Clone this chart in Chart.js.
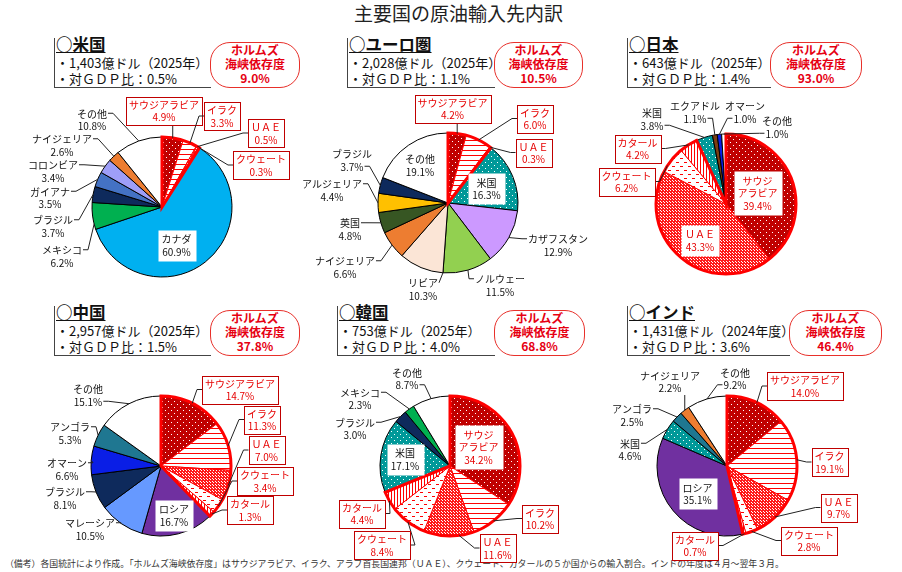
<!DOCTYPE html>
<html lang="ja"><head><meta charset="utf-8">
<script src="https://cdn.jsdelivr.net/npm/chart.js@4.4.1/dist/chart.umd.min.js"></script>
<style>
html,body{margin:0;padding:0;width:902px;height:572px;overflow:hidden;background:#fff;font-family:"Noto Sans CJK JP","Noto Sans",sans-serif;color:#111;}
#title{position:absolute;left:354px;top:0px;font-size:19px;line-height:26px;color:#222;white-space:nowrap;}
.hdr{position:absolute;border-left:1px solid #444;border-bottom:1px solid #444;height:49px;box-sizing:content-box;}
.hdr .t{position:absolute;left:1px;top:-2px;font-size:16.5px;line-height:17px;font-weight:bold;text-decoration:underline;white-space:nowrap;}
.hdr .l{position:absolute;left:1px;font-size:13px;line-height:14px;white-space:nowrap;}
.hz{position:absolute;border:1.5px solid #E8302A;border-radius:20px;color:#E60012;font-weight:bold;font-size:12px;line-height:14px;text-align:center;box-sizing:border-box;height:46px;padding-top:0;}
canvas{position:absolute;}
#note{position:absolute;left:5px;top:557px;font-size:8.9px;line-height:14px;color:#333;white-space:nowrap;}
</style></head>
<body>
<div id="title">主要国の原油輸入先内訳</div>
<div id="note">（備考）各国統計により作成。「ホルムズ海峡依存度」はサウジアラビア、イラク、アラブ首長国連邦（ＵＡＥ）、クウェート、カタールの５か国からの輸入割合。インドの年度は４月～翌年３月。</div>
<script>
// ===== DATA =====
const regionNames   = ['米国','ユーロ圏','日本','中国','韓国','インド'];
const importAmounts = [1403, 2028, 643, 2957, 753, 1431]; // 億ドル
const importPeriods = ['2025年','2025年','2025年','2025年','2025年','2024年度'];
const gdpRatios     = [0.5, 1.1, 1.4, 1.5, 4.0, 3.6];
const hormuzShares  = [9.0, 10.5, 93.0, 37.8, 68.8, 46.4];

const usCategories = ['サウジアラビア','イラク','ＵＡＥ','クウェート','カナダ','メキシコ','ブラジル','ガイアナ','コロンビア','ナイジェリア','その他'];
const usValues     = [4.9, 3.3, 0.5, 0.3, 60.9, 6.2, 3.7, 3.5, 3.4, 2.6, 10.8];

const euCategories = ['サウジアラビア','イラク','ＵＡＥ','米国','カザフスタン','ノルウェー','リビア','ナイジェリア','英国','アルジェリア','ブラジル','その他'];
const euValues     = [4.2, 6.0, 0.3, 16.3, 12.9, 11.5, 10.3, 6.6, 4.8, 4.4, 3.7, 19.1];

const jpCategories = ['サウジアラビア','ＵＡＥ','クウェート','カタール','米国','エクアドル','オマーン','その他'];
const jpValues     = [39.4, 43.3, 6.2, 4.2, 3.8, 1.1, 1.0, 1.0];

const cnCategories = ['サウジアラビア','イラク','ＵＡＥ','クウェート','カタール','ロシア','マレーシア','ブラジル','オマーン','アンゴラ','その他'];
const cnValues     = [14.7, 11.3, 7.0, 3.4, 1.3, 16.7, 10.5, 8.1, 6.6, 5.3, 15.1];

const krCategories = ['サウジアラビア','イラク','ＵＡＥ','クウェート','カタール','米国','ブラジル','メキシコ','その他'];
const krValues     = [34.2, 10.2, 11.6, 8.4, 4.4, 17.1, 3.0, 2.3, 8.7];

const inCategories = ['サウジアラビア','イラク','ＵＡＥ','クウェート','カタール','ロシア','米国','アンゴラ','ナイジェリア','その他'];
const inValues     = [14.0, 19.1, 9.7, 2.8, 0.7, 35.1, 4.6, 2.5, 2.2, 9.2];

const HORMUZ = ['サウジアラビア','イラク','ＵＡＥ','クウェート','カタール'];

// ===== LAYOUT (positions, not data) =====
const panelLayout = [
  {hx:54,  hy:38,  bx:210, bw:90, cx:162, cy:207},
  {hx:347, hy:38,  bx:494, bw:89, cx:448, cy:203},
  {hx:627, hy:38,  bx:770, bw:92, cx:726, cy:204},
  {hx:54,  hy:306, bx:210, bw:90, cx:161, cy:466},
  {hx:337, hy:306, bx:494, bw:91, cx:450, cy:466},
  {hx:627, hy:306, bx:789, bw:93, cx:727, cy:466}
];
// label offsets from pie centre; a: attach side of leader (l/r/b), in = inside box, txt = inside plain
const usLabelPos = {
  'サウジアラビア':{x:2,y:-96.5,a:'b'}, 'イラク':{x:60,y:-91,a:'l'}, 'ＵＡＥ':{x:104,y:-74,a:'l'},
  'クウェート':{x:99,y:-42,a:'l'}, 'カナダ':{x:14.5,y:38,a:'in'}, 'メキシコ':{x:-100,y:49,a:'r',f:0.2},
  'ブラジル':{x:-109,y:19,a:'r'}, 'ガイアナ':{x:-112,y:-9.5,a:'r'}, 'コロンビア':{x:-109,y:-36,a:'r'},
  'ナイジェリア':{x:-100,y:-62,a:'r'}, 'その他':{x:-70,y:-87.5,a:'r'}
};
const euLabelPos = {
  'サウジアラビア':{x:4.5,y:-94.5,a:'b'}, 'イラク':{x:87,y:-84.5,a:'l'}, 'ＵＡＥ':{x:85.5,y:-50.5,a:'l'},
  '米国':{x:38.5,y:-14.5,a:'in'}, 'カザフスタン':{x:110,y:42,a:'l'}, 'ノルウェー':{x:52,y:82,a:'l'},
  'リビア':{x:-25,y:86,a:'r',f:0,e:0}, 'ナイジェリア':{x:-103,y:64,a:'r'}, '英国':{x:-98,y:26,a:'r'},
  'アルジェリア':{x:-116,y:-13,a:'r'}, 'ブラジル':{x:-96,y:-43,a:'r',al:1}, 'その他':{x:-28,y:-38,a:'txt'}
};
const jpLabelPos = {
  'サウジアラビア':{x:31.5,y:-11,a:'in',br:1}, 'ＵＡＥ':{x:-26,y:36,a:'in'},
  'クウェート':{x:-99.5,y:-22.5,a:'r',f:0.25}, 'カタール':{x:-88.5,y:-55.5,a:'r'},
  '米国':{x:-74,y:-85,a:'r',al:1}, 'エクアドル':{x:-31,y:-92,a:'r',al:1},
  'オマーン':{x:19,y:-92,a:'l',al:1}, 'その他':{x:51,y:-77,a:'l',al:1}
};
const cnLabelPos = {
  'サウジアラビア':{x:79,y:-76.5,a:'l'}, 'イラク':{x:101,y:-46.5,a:'l'}, 'ＵＡＥ':{x:105.5,y:-16,a:'l'},
  'クウェート':{x:104,y:15,a:'l'}, 'カタール':{x:89,y:44,a:'l'}, 'ロシア':{x:13,y:49,a:'in'},
  'マレーシア':{x:-71,y:63,a:'r'}, 'ブラジル':{x:-96,y:32,a:'r'}, 'オマーン':{x:-94,y:3,a:'r'},
  'アンゴラ':{x:-91,y:-33,a:'r'}, 'その他':{x:-73,y:-71,a:'r',al:1}
};
const krLabelPos = {
  'サウジアラビア':{x:28.5,y:-19,a:'in',br:1}, 'イラク':{x:90,y:52.5,a:'l'}, 'ＵＡＥ':{x:47.5,y:82,a:'l',f:0.3},
  'クウェート':{x:-68,y:79,a:'r'}, 'カタール':{x:-88,y:47.5,a:'r'}, '米国':{x:-45,y:-7,a:'in'},
  'ブラジル':{x:-95,y:-37.5,a:'r'}, 'メキシコ':{x:-90,y:-67.5,a:'r'}, 'その他':{x:-43,y:-87.5,a:'r',al:1}
};
const inLabelPos = {
  'サウジアラビア':{x:78,y:-80,a:'l'}, 'イラク':{x:102.5,y:-4,a:'l'}, 'ＵＡＥ':{x:111.5,y:41.5,a:'l'},
  'クウェート':{x:82,y:74.5,a:'l'}, 'カタール':{x:-32,y:79.5,a:'r'}, 'ロシア':{x:-29.5,y:27.5,a:'in'},
  '米国':{x:-97,y:-16.5,a:'r'}, 'アンゴラ':{x:-95,y:-51,a:'r'}, 'ナイジェリア':{x:-57,y:-84.5,a:'b'},
  'その他':{x:8,y:-87.5,a:'l',al:1}
};

// ===== STYLES =====
function pat(w,h,bg,draw){const c=document.createElement('canvas');c.width=w;c.height=h;const g=c.getContext('2d');g.fillStyle=bg;g.fillRect(0,0,w,h);draw(g);return g.createPattern(c,'repeat');}
const P = {
  saudi: pat(6,6,'#C00000',g=>{g.fillStyle='#fff';g.fillRect(1,1,1,1);g.fillRect(4,4,1,1);}),
  iraq:  pat(5,5,'#fff',g=>{g.fillStyle='#FF0000';g.fillRect(0,2,5,1);}),
  uae:   pat(3,3,'#FF1A1A',g=>{g.fillStyle='#fff';g.fillRect(1,1,1,1);g.fillRect(0,0,1,1);}),
  kuwait:pat(8,8,'#fff',g=>{g.fillStyle='#FF0000';g.fillRect(0,2,3,1);g.fillRect(4,6,3,1);}),
  qatar: pat(3,3,'#fff',g=>{g.fillStyle='#FF0000';g.fillRect(1,0,1,3);}),
  teal:  pat(6,6,'#009999',g=>{g.fillStyle='#fff';g.fillRect(1,1,1,1);g.fillRect(4,4,1,1);})
};
const SLICE_FILL = {
  'サウジアラビア':P.saudi,'イラク':P.iraq,'ＵＡＥ':P.uae,'クウェート':P.kuwait,'カタール':P.qatar,'米国':P.teal,
  'カナダ':'#00B0F0','メキシコ':'#00B050','ブラジル':'#0E2A5C','ガイアナ':'#4472C4','コロンビア':'#9E9EF8',
  'ナイジェリア':'#ED7D31','その他':'#FFFFFF','カザフスタン':'#CC99FF','ノルウェー':'#92D050','リビア':'#FBE5D6',
  '英国':'#375623','アルジェリア':'#FFC000','エクアドル':'#7B3F12','オマーン':'#0A1EE6','ロシア':'#7030A0',
  'マレーシア':'#6699FF','アンゴラ':'#1F7791'
};
const fmtPct = v => v.toFixed(1) + '%';

// ===== HEADERS =====
panelLayout.forEach((p,i)=>{
  const h=document.createElement('div');h.className='hdr';
  h.style.left=p.hx+'px';h.style.top=p.hy+'px';h.style.width=(p.bx-p.hx)+'px';
  h.innerHTML='<div class="t">○'+regionNames[i]+'</div>'+
    '<div class="l" style="top:18px">・'+importAmounts[i].toLocaleString('en-US')+'億ドル（'+importPeriods[i]+'）</div>'+
    '<div class="l" style="top:34px">・対ＧＤＰ比：'+gdpRatios[i].toFixed(1)+'%</div>';
  document.body.appendChild(h);
  const z=document.createElement('div');z.className='hz';
  z.style.left=p.bx+'px';z.style.top=(p.hy+4)+'px';z.style.width=p.bw+'px';
  z.innerHTML='ホルムズ<br>海峡依存度<br>'+fmtPct(hormuzShares[i]);
  document.body.appendChild(z);
});

// ===== LABEL PLUGIN =====
function makeLabelPlugin(pos){
  return {id:'pieLabels', afterDatasetsDraw(chart){
    const ctx=chart.ctx, arcs=chart.getDatasetMeta(0).data, cats=chart.data.labels, vals=chart.data.datasets[0].data;
    const cx=arcs[0].x, cy=arcs[0].y, R=arcs[0].outerRadius;
    ctx.save();
    const hIdx=cats.map((c,i)=>HORMUZ.includes(c)?i:-1).filter(i=>i>=0);
    if(hIdx.length){
      ctx.beginPath();ctx.moveTo(cx,cy);
      ctx.arc(cx,cy,R,arcs[hIdx[0]].startAngle,arcs[hIdx[hIdx.length-1]].endAngle);
      ctx.closePath();ctx.lineWidth=3;ctx.strokeStyle='#FF0000';ctx.lineJoin='miter';ctx.stroke();
    }
    const FS=10, LH=12.5;
    ctx.font=FS+'px "Noto Sans CJK JP"';ctx.textAlign='center';ctx.textBaseline='middle';
    cats.forEach((c,i)=>{
      const L=pos[c]; if(!L) return;
      const isH=HORMUZ.includes(c);
      const lines=L.br?['サウジ','アラビア',fmtPct(vals[i])]:[c,fmtPct(vals[i])];
      const ws=lines.map(t=>ctx.measureText(t).width), w=Math.max(...ws);
      const lx=cx+L.x, ly=cy+L.y, h=lines.length*LH, top=ly-h/2;
      const boxed=L.a==='in'||(isH&&L.a!=='txt');
      const px=L.a==='in'?4:3, py=L.a==='in'?3:1.5;
      if(L.a!=='in'&&L.a!=='txt'){
        const a=arcs[i], f=(L.f===undefined?0.5:L.f);
        const ang=a.startAngle+(a.endAngle-a.startAngle)*f;
        const tx=cx+R*Math.cos(ang), ty=cy+R*Math.sin(ang);
        const k=L.al||0, lineY=top+LH*(k+0.5);
        let sx,sy,ex=null;
        if(L.a==='r'){sx=boxed?lx+w/2+px:lx+ws[k]/2+1;sy=boxed?ly:lineY;ex=sx+5;}
        else if(L.a==='l'){sx=boxed?lx-w/2-px:lx-ws[k]/2-1;sy=boxed?ly:lineY;ex=sx-5;}
        else {sx=Math.min(Math.max(tx,lx-w/2+3),lx+w/2-3);sy=top+h+(boxed?py:1);}
        ctx.beginPath();ctx.moveTo(sx,sy);
        if(ex!==null&&L.e!==0)ctx.lineTo(ex,sy);
        ctx.lineTo(tx,ty);ctx.strokeStyle='#222';ctx.lineWidth=1;ctx.stroke();
      }
      if(boxed){
        const bx=Math.round(lx-w/2-px)+0.5, by=Math.round(top-py)+0.5, bw=Math.round(w+2*px), bh=Math.round(h+2*py);
        ctx.fillStyle='#fff';ctx.fillRect(bx,by,bw,bh);
        if(L.a!=='in'){ctx.strokeStyle='#C00000';ctx.lineWidth=1;ctx.strokeRect(bx,by,bw,bh);}
      }
      ctx.fillStyle=isH?'#E60000':'#111';
      lines.forEach((t,j)=>ctx.fillText(t,lx,top+LH*(j+0.5)+0.5));
    });
    ctx.restore();
  }};
}

// ===== CHARTS =====
const chartSpecs = [
  {cats:usCategories, vals:usValues, pos:usLabelPos},
  {cats:euCategories, vals:euValues, pos:euLabelPos},
  {cats:jpCategories, vals:jpValues, pos:jpLabelPos},
  {cats:cnCategories, vals:cnValues, pos:cnLabelPos},
  {cats:krCategories, vals:krValues, pos:krLabelPos},
  {cats:inCategories, vals:inValues, pos:inLabelPos}
];
chartSpecs.forEach((s,i)=>{
  const p=panelLayout[i];
  const cv=document.createElement('canvas');cv.width=300;cv.height=240;
  cv.style.left=(p.cx-150)+'px';cv.style.top=(p.cy-120)+'px';
  document.body.appendChild(cv);
  new Chart(cv,{type:'pie',
    data:{labels:s.cats,datasets:[{data:s.vals,
      backgroundColor:s.cats.map(c=>SLICE_FILL[c]),
      borderColor:s.cats.map(c=>HORMUZ.includes(c)?'#FF0000':'#000'),
      borderWidth:1,radius:70,hoverOffset:0}]},
    options:{responsive:false,animation:false,events:[],radius:70,layout:{padding:0},
      plugins:{legend:{display:false},tooltip:{enabled:false}}},
    plugins:[makeLabelPlugin(s.pos)]});
});
</script>
</body></html>
